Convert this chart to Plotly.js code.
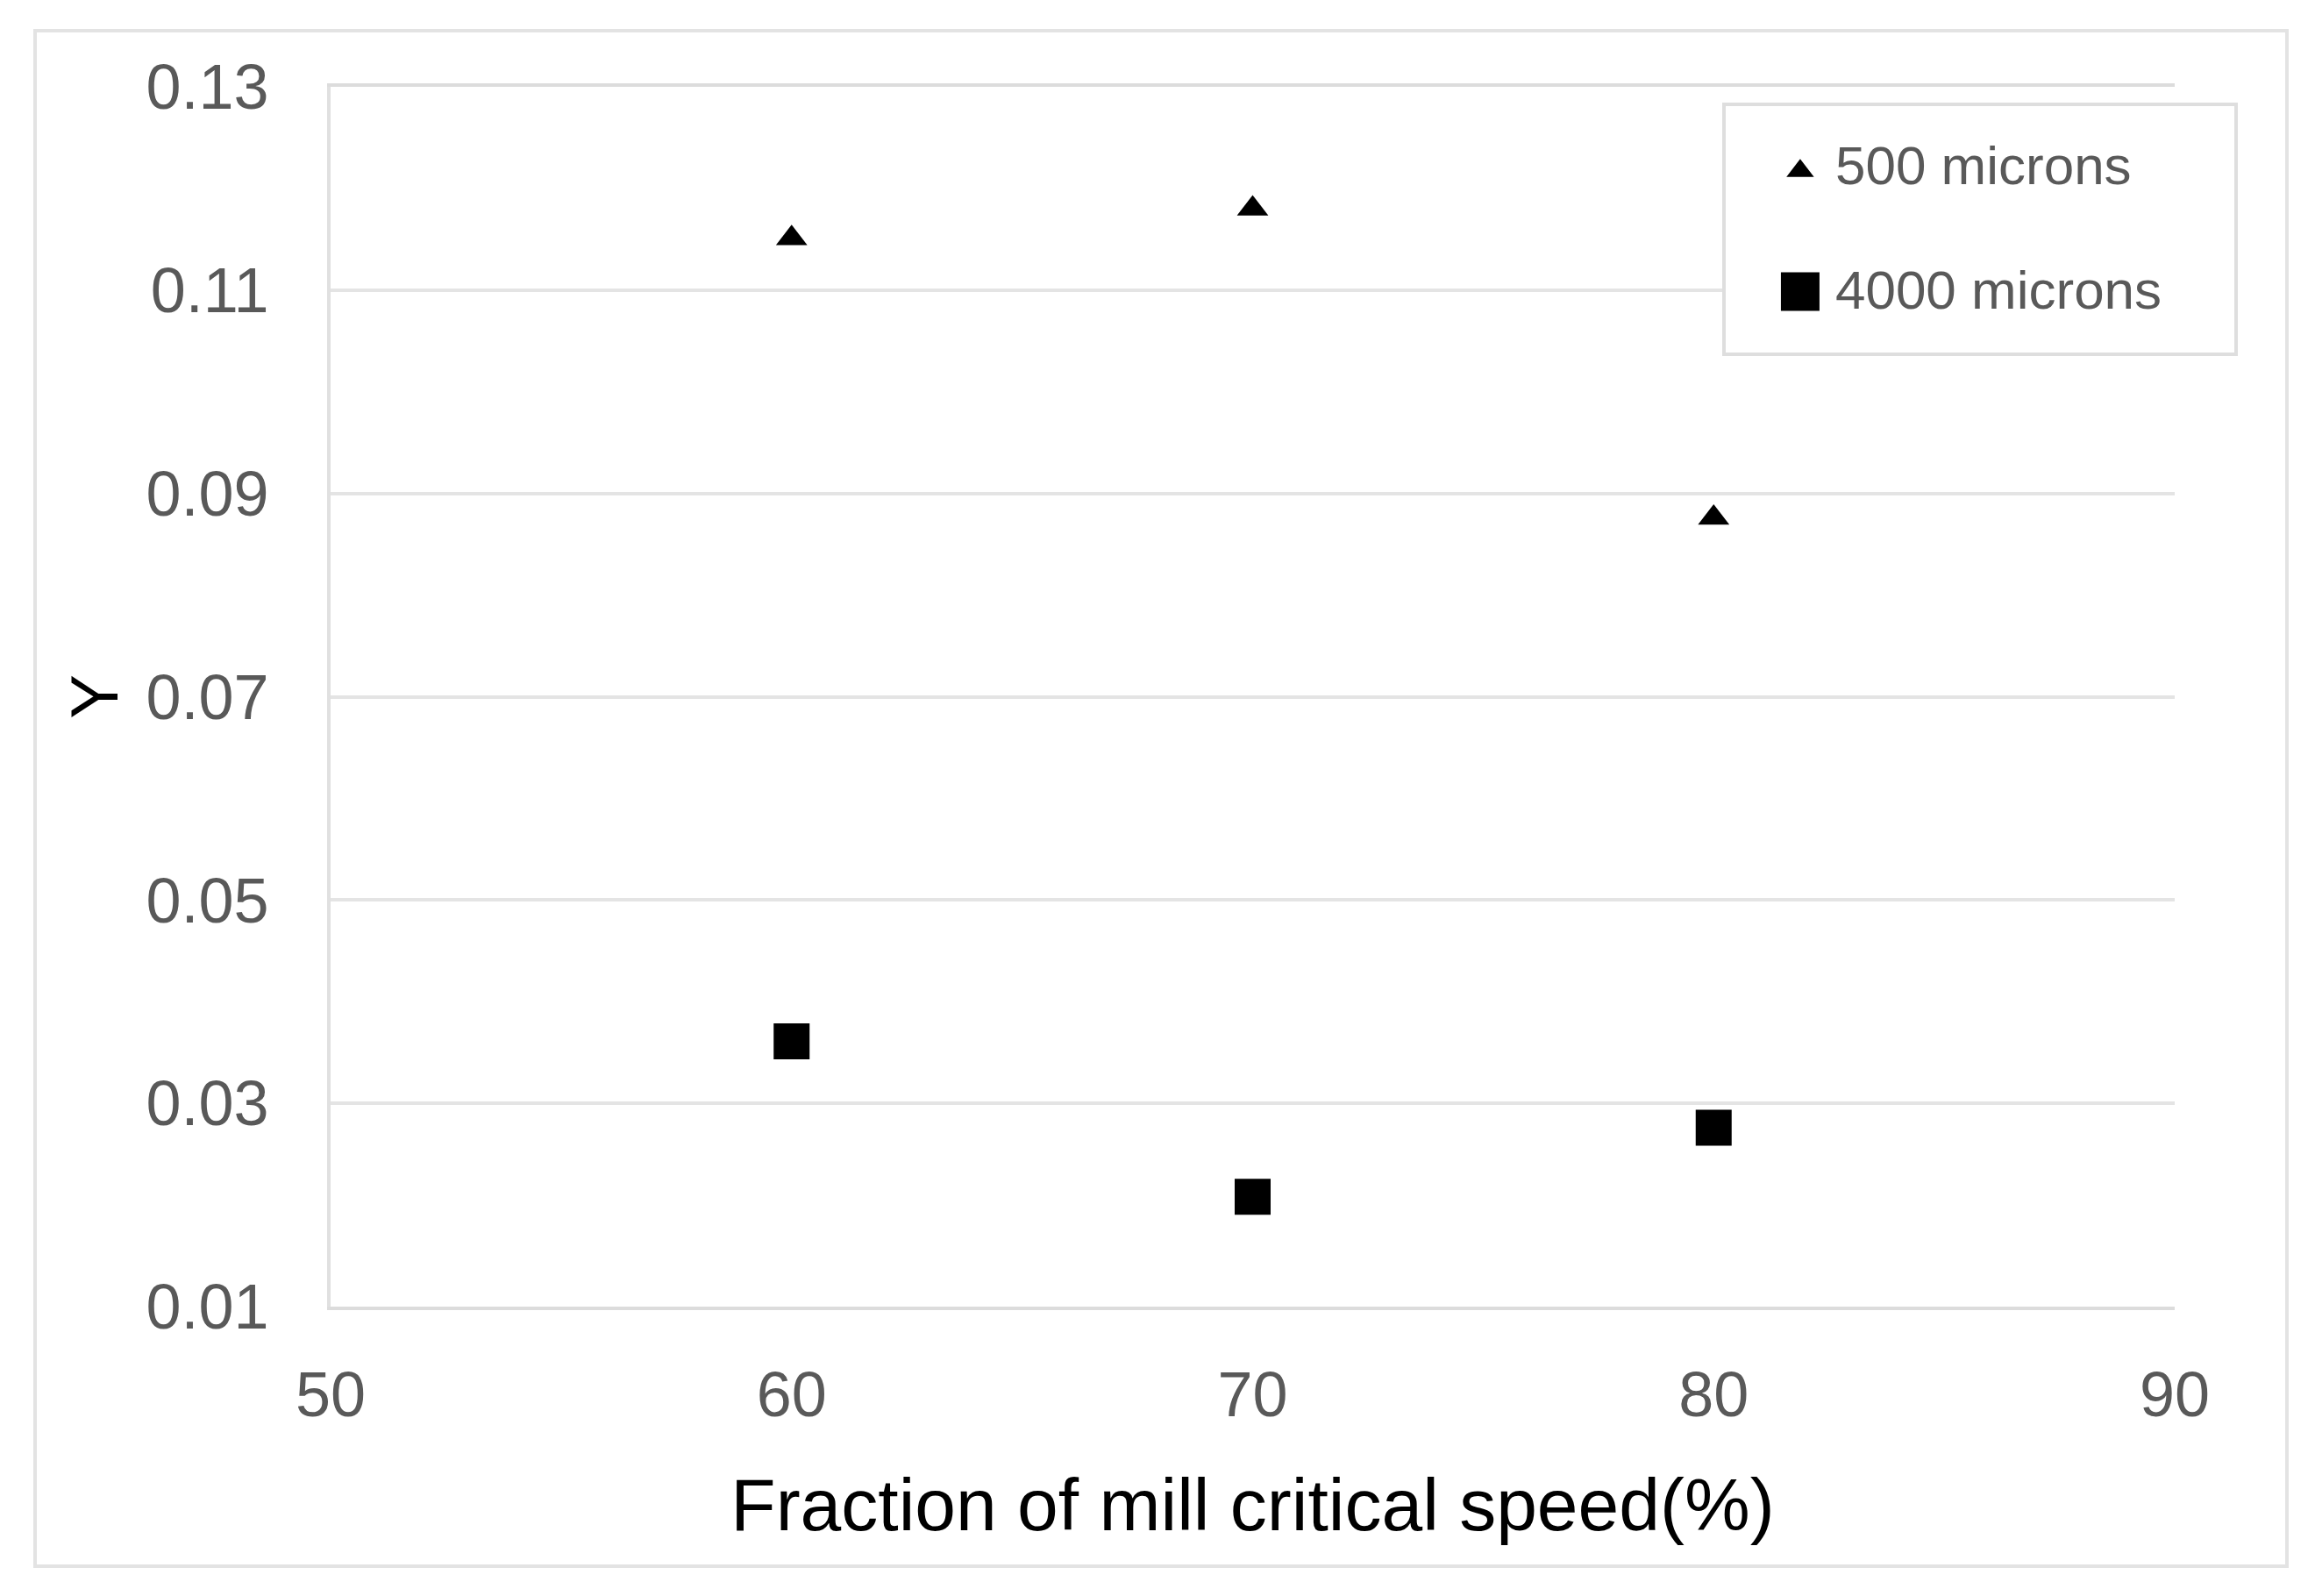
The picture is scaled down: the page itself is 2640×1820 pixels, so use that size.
<!DOCTYPE html>
<html>
<head>
<meta charset="utf-8">
<script src="https://cdn.plot.ly/plotly-3.0.1.min.js"></script>
<style>
  html, body { margin: 0; padding: 0; background: #ffffff; }
  #chart { width: 2640px; height: 1820px; }
</style>
</head>
<body>
<div id="chart"></div>
<script>
// ---- data ----
var speedPercent = [60, 70, 80];
var gamma500 = [0.1151, 0.1180, 0.0876];
var gamma4000 = [0.0361, 0.0208, 0.0276];
var seriesNames = ['500 microns', '4000 microns'];
var xTickValues = [50, 60, 70, 80, 90];
var yTickValues = [0.01, 0.03, 0.05, 0.07, 0.09, 0.11, 0.13];
var xTitle = 'Fraction of mill critical speed(%)';
var yTitle = 'Y';

var FONT = '"Liberation Sans", Arial, sans-serif';
var TICK_GRAY = '#595959';

var traces = [
  {
    type: 'scatter', mode: 'markers',
    name: seriesNames[0], legendgroup: 'g1',
    x: speedPercent, y: gamma500,
    marker: { symbol: 'triangle-up', size: 31, color: '#000000', line: { width: 0 } }
  },
  {
    type: 'scatter', mode: 'markers',
    name: seriesNames[1], legendgroup: 'g2',
    x: speedPercent, y: gamma4000,
    marker: { symbol: 'square', size: 41, color: '#000000', line: { width: 0 } }
  }
];

var layout = {
  width: 2640, height: 1820,
  paper_bgcolor: '#ffffff', plot_bgcolor: '#ffffff',
  margin: { l: 377, r: 160, t: 99, b: 330, pad: 0 },
  font: { family: FONT, color: TICK_GRAY },
  showlegend: true,
  legend: {
    x: 0.7779, y: 0.9712, xanchor: 'left', yanchor: 'top',
    bgcolor: 'rgba(0,0,0,0)', borderwidth: 0,
    itemwidth: 70,
    font: { family: FONT, size: 62, color: TICK_GRAY },
    tracegroupgap: 58, traceorder: 'grouped'
  },
  xaxis: {
    range: [50, 90], tickvals: xTickValues, ticktext: xTickValues.map(String),
    showgrid: false, zeroline: false,
    showline: true, mirror: true, linecolor: '#dcdcdc', linewidth: 4,
    ticks: '', ticklabelstandoff: 35,
    tickfont: { family: FONT, size: 72, color: TICK_GRAY },
    title: { text: xTitle, standoff: 58, font: { family: FONT, size: 84, color: '#000000' } },
    automargin: false, fixedrange: true
  },
  yaxis: {
    range: [0.01, 0.13], tickvals: yTickValues, ticktext: yTickValues.map(function (v) { return v.toFixed(2); }),
    showgrid: true, gridcolor: '#e4e4e4', gridwidth: 4,
    zeroline: false,
    showline: true, linecolor: '#e0e0e0', linewidth: 4,
    ticks: '', ticklabelstandoff: 52,
    tickfont: { family: FONT, size: 72, color: TICK_GRAY },
    title: { text: yTitle, standoff: 8, font: { family: FONT, size: 76, color: '#000000' } },
    automargin: false, fixedrange: true
  },
  shapes: [
    // outer chart frame
    { type: 'rect', xref: 'paper', yref: 'paper', layer: 'below',
      x0: -0.16025, x1: 1.06087, y0: -0.2128, y1: 1.04601,
      line: { color: '#e3e3e3', width: 4 }, fillcolor: 'rgba(0,0,0,0)' },
    // legend box
    { type: 'rect', xref: 'paper', yref: 'paper', layer: 'above',
      x0: 0.7556, x1: 1.03329, y0: 0.78073, y1: 0.98562,
      line: { color: '#dedede', width: 4 }, fillcolor: '#ffffff' }
  ]
};

// legend symbols are capped in size by the library; enlarge them to match the reference
var legendSymbolScale = [1.7, 2.75];
var legendSymbolDown = [9, 5];

var gd = document.getElementById('chart');
Plotly.newPlot(gd, traces, layout, { displayModeBar: false, staticPlot: true }).then(function () {
  var items = gd.querySelectorAll('.legend .traces');
  items.forEach(function (it, i) {
    var p = it.querySelector('.legendpoints path.scatterpts');
    if (!p) return;
    var t = p.getAttribute('transform') || '';
    p.setAttribute('transform', 'translate(0,' + legendSymbolDown[i] + ') ' + t + ' scale(' + legendSymbolScale[i] + ')');
  });
});
</script>
</body>
</html>
